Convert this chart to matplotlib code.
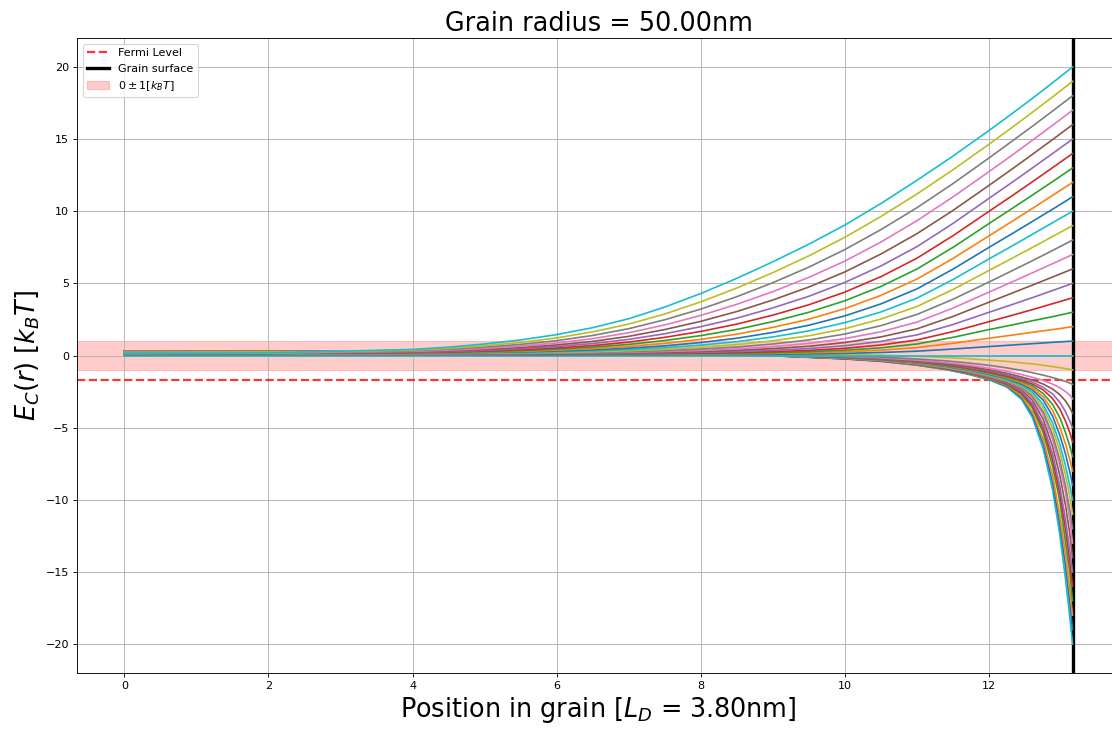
import matplotlib
matplotlib.use('Agg')
import matplotlib.pyplot as plt

# grain / model parameters shown in the labels
grain_radius_nm = 50.0
debye_length_nm = 3.8
surface_pos = 13.158          # grain radius in units of L_D
fermi_level = -1.7

# positions (in L_D) where the curves were read
x_up = [0, 2, 4, 4.5, 5, 5.5, 6, 6.5, 7, 7.5, 8, 8.5, 9, 9.5, 10, 10.5, 11,
        11.5, 12, 12.3, 12.6, 12.9, 13.158]
x_down = [0, 4, 6, 8, 9, 10, 10.5, 11, 11.4, 11.7, 12, 12.25, 12.45, 12.6,
          12.75, 12.88, 12.98, 13.06, 13.12, 13.158]

# surface potential +1 ... +20 (depletion)
up_curves = [
    [0.05, 0.05, 0.05, 0.05, 0.05, 0.05, 0.05, 0.06, 0.06, 0.06, 0.07, 0.08, 0.09, 0.11, 0.15, 0.21, 0.30, 0.45, 0.62, 0.72, 0.82, 0.92, 1],
    [0.08, 0.08, 0.08, 0.08, 0.08, 0.09, 0.09, 0.10, 0.10, 0.10, 0.11, 0.12, 0.15, 0.19, 0.26, 0.37, 0.55, 0.85, 1.20, 1.40, 1.61, 1.81, 2],
    [0.10, 0.10, 0.10, 0.10, 0.11, 0.11, 0.11, 0.12, 0.12, 0.13, 0.14, 0.16, 0.20, 0.26, 0.37, 0.53, 0.80, 1.26, 1.80, 2.10, 2.41, 2.71, 3],
    [0.11, 0.11, 0.11, 0.11, 0.12, 0.12, 0.13, 0.13, 0.14, 0.15, 0.18, 0.21, 0.27, 0.35, 0.50, 0.73, 1.08, 1.66, 2.35, 2.76, 3.18, 3.62, 4],
    [0.12, 0.12, 0.12, 0.12, 0.13, 0.13, 0.14, 0.15, 0.16, 0.18, 0.22, 0.27, 0.36, 0.48, 0.68, 0.98, 1.43, 2.15, 3.00, 3.50, 4.01, 4.54, 5],
    [0.13, 0.13, 0.13, 0.13, 0.14, 0.14, 0.15, 0.16, 0.19, 0.22, 0.28, 0.36, 0.48, 0.64, 0.90, 1.29, 1.85, 2.71, 3.70, 4.29, 4.88, 5.48, 6],
    [0.13, 0.13, 0.13, 0.13, 0.14, 0.15, 0.17, 0.19, 0.23, 0.28, 0.35, 0.46, 0.62, 0.84, 1.17, 1.65, 2.32, 3.29, 4.40, 5.06, 5.73, 6.41, 7],
    [0.14, 0.14, 0.14, 0.15, 0.16, 0.17, 0.19, 0.22, 0.27, 0.34, 0.45, 0.59, 0.80, 1.08, 1.49, 2.07, 2.85, 3.90, 5.10, 5.83, 6.57, 7.33, 8],
    [0.14, 0.14, 0.15, 0.16, 0.17, 0.19, 0.22, 0.26, 0.33, 0.43, 0.57, 0.76, 1.02, 1.37, 1.86, 2.53, 3.40, 4.58, 5.90, 6.69, 7.49, 8.30, 9],
    [0.15, 0.15, 0.16, 0.17, 0.19, 0.22, 0.26, 0.32, 0.41, 0.54, 0.72, 0.96, 1.29, 1.71, 2.28, 3.02, 3.98, 5.27, 6.70, 7.54, 8.40, 9.26, 10],
    [0.15, 0.15, 0.17, 0.19, 0.21, 0.25, 0.31, 0.39, 0.51, 0.67, 0.90, 1.20, 1.60, 2.10, 2.75, 3.58, 4.62, 5.99, 7.50, 8.39, 9.29, 10.20, 11],
    [0.15, 0.15, 0.18, 0.20, 0.24, 0.29, 0.37, 0.48, 0.63, 0.84, 1.12, 1.48, 1.95, 2.52, 3.25, 4.17, 5.30, 6.73, 8.30, 9.24, 10.19, 11.16, 12],
    [0.15, 0.15, 0.19, 0.22, 0.27, 0.34, 0.44, 0.58, 0.77, 1.04, 1.38, 1.81, 2.35, 3.00, 3.80, 4.79, 6.00, 7.50, 9.15, 10.13, 11.12, 12.12, 13],
    [0.15, 0.15, 0.21, 0.25, 0.31, 0.40, 0.52, 0.69, 0.93, 1.26, 1.67, 2.18, 2.80, 3.52, 4.40, 5.47, 6.75, 8.31, 10.00, 11.01, 12.04, 13.09, 14],
    [0.15, 0.16, 0.23, 0.28, 0.36, 0.47, 0.62, 0.83, 1.12, 1.51, 2.00, 2.59, 3.30, 4.11, 5.07, 6.21, 7.55, 9.16, 10.90, 11.94, 13.00, 14.07, 15],
    [0.15, 0.16, 0.26, 0.33, 0.42, 0.55, 0.73, 0.98, 1.33, 1.80, 2.37, 3.05, 3.85, 4.75, 5.80, 7.04, 8.45, 10.06, 11.80, 12.86, 13.94, 15.04, 16],
    [0.15, 0.16, 0.29, 0.37, 0.49, 0.65, 0.87, 1.17, 1.58, 2.12, 2.78, 3.55, 4.43, 5.42, 6.55, 7.87, 9.35, 11.00, 12.75, 13.82, 14.92, 16.03, 17],
    [0.15, 0.17, 0.33, 0.44, 0.58, 0.77, 1.03, 1.39, 1.86, 2.48, 3.22, 4.08, 5.05, 6.13, 7.35, 8.73, 10.25, 11.92, 13.70, 14.79, 15.89, 17.02, 18],
    [0.15, 0.17, 0.37, 0.50, 0.68, 0.91, 1.22, 1.64, 2.18, 2.88, 3.72, 4.68, 5.75, 6.91, 8.20, 9.64, 11.20, 12.88, 14.65, 15.74, 16.86, 18.00, 19],
    [0.15, 0.18, 0.42, 0.58, 0.80, 1.08, 1.45, 1.93, 2.55, 3.36, 4.30, 5.35, 6.50, 7.72, 9.05, 10.54, 12.15, 13.83, 15.60, 16.70, 17.82, 18.98, 20],
]

# surface potential -1 ... -20 (accumulation)
down_curves = [
    [0.22, 0.27, 0.24, 0.19, 0.13, 0.07, 0.02, -0.06, -0.14, -0.22, -0.32, -0.41, -0.51, -0.58, -0.68, -0.77, -0.84, -0.91, -0.96, -1.0],
    [0.3, 0.26, 0.22, 0.15, 0.09, -0.02, -0.11, -0.24, -0.37, -0.51, -0.68, -0.86, -1.03, -1.19, -1.36, -1.53, -1.67, -1.80, -1.91, -2.0],
    [0.3, 0.25, 0.21, 0.13, 0.07, -0.06, -0.17, -0.32, -0.49, -0.66, -0.88, -1.10, -1.32, -1.51, -1.73, -1.98, -2.23, -2.50, -2.75, -3.0],
    [0.3, 0.25, 0.21, 0.13, 0.06, -0.09, -0.21, -0.37, -0.56, -0.75, -0.99, -1.24, -1.49, -1.70, -1.98, -2.32, -2.71, -3.15, -3.62, -4.0],
    [0.3, 0.25, 0.20, 0.12, 0.05, -0.11, -0.24, -0.40, -0.61, -0.81, -1.07, -1.35, -1.61, -1.85, -2.20, -2.67, -3.23, -3.90, -4.55, -5.0],
    [0.3, 0.25, 0.20, 0.12, 0.04, -0.12, -0.25, -0.43, -0.65, -0.86, -1.13, -1.42, -1.70, -1.98, -2.38, -2.98, -3.70, -4.55, -5.35, -6.0],
    [0.3, 0.25, 0.20, 0.11, 0.03, -0.13, -0.27, -0.46, -0.69, -0.91, -1.20, -1.50, -1.80, -2.11, -2.63, -3.39, -4.30, -5.35, -6.30, -7.0],
    [0.3, 0.25, 0.20, 0.11, 0.03, -0.14, -0.28, -0.49, -0.72, -0.95, -1.25, -1.57, -1.89, -2.26, -2.86, -3.80, -4.93, -6.13, -7.22, -8.0],
    [0.3, 0.24, 0.20, 0.11, 0.02, -0.15, -0.30, -0.51, -0.75, -0.99, -1.30, -1.62, -1.98, -2.38, -3.09, -4.20, -5.50, -6.83, -8.08, -9.0],
    [0.3, 0.24, 0.20, 0.10, 0.02, -0.17, -0.31, -0.53, -0.77, -1.02, -1.35, -1.68, -2.06, -2.54, -3.39, -4.68, -6.13, -7.65, -9.04, -10.0],
    [0.3, 0.24, 0.20, 0.10, 0.01, -0.17, -0.32, -0.54, -0.80, -1.05, -1.38, -1.73, -2.14, -2.67, -3.62, -5.05, -6.65, -8.30, -9.78, -11.0],
    [0.3, 0.24, 0.19, 0.10, 0.01, -0.18, -0.33, -0.56, -0.82, -1.08, -1.42, -1.78, -2.23, -2.81, -3.90, -5.50, -7.22, -9.04, -10.73, -12.0],
    [0.3, 0.24, 0.19, 0.10, 0.00, -0.19, -0.34, -0.57, -0.84, -1.10, -1.45, -1.81, -2.29, -2.92, -4.10, -5.80, -7.65, -9.53, -11.40, -13.0],
    [0.3, 0.24, 0.19, 0.10, 0.00, -0.20, -0.35, -0.58, -0.86, -1.13, -1.49, -1.87, -2.38, -3.09, -4.43, -6.30, -8.30, -10.40, -12.40, -14.0],
    [0.3, 0.24, 0.19, 0.10, 0.00, -0.20, -0.36, -0.60, -0.88, -1.17, -1.53, -1.94, -2.50, -3.31, -4.80, -6.83, -9.04, -11.40, -13.55, -15.0],
    [0.3, 0.24, 0.19, 0.09, -0.01, -0.21, -0.37, -0.61, -0.90, -1.19, -1.55, -1.98, -2.59, -3.46, -5.05, -7.22, -9.53, -12.07, -14.32, -16.0],
    [0.3, 0.24, 0.19, 0.09, -0.01, -0.22, -0.38, -0.63, -0.92, -1.21, -1.58, -2.02, -2.67, -3.62, -5.35, -7.65, -10.07, -12.94, -15.08, -17.0],
    [0.3, 0.24, 0.19, 0.09, -0.01, -0.22, -0.39, -0.65, -0.94, -1.24, -1.62, -2.08, -2.81, -3.90, -5.80, -8.30, -11.07, -13.80, -16.23, -18.0],
    [0.3, 0.24, 0.19, 0.09, -0.01, -0.23, -0.40, -0.66, -0.96, -1.26, -1.65, -2.14, -2.92, -4.10, -6.13, -8.79, -11.73, -14.62, -17.17, -19.0],
    [0.3, 0.24, 0.19, 0.09, -0.02, -0.24, -0.40, -0.67, -0.98, -1.29, -1.69, -2.20, -3.04, -4.30, -6.48, -9.29, -12.40, -15.51, -18.16, -20.0],
]

flat_x = [0, 13.158]
flat_y = [0, 0]

fig = plt.figure(figsize=(13.9, 9.125), dpi=80)
ax = fig.add_axes([0.0692, 0.0782, 0.938, 0.8696])

ax.axhline(fermi_level, color='red', linestyle='--', linewidth=2, alpha=0.8,
           label='Fermi Level')
ax.axvline(surface_pos, color='black', linewidth=3, label='Grain surface')
ax.axhspan(-1, 1, color='red', alpha=0.2, label=r'$0\pm1 [k_BT]$')

# draw from the most negative surface value up to +20
for k in range(len(down_curves), 0, -1):
    ax.plot(x_down, down_curves[k - 1], color='C%d' % ((-k - 1) % 10), linewidth=1.5)
ax.plot(flat_x, flat_y, color='C9', linewidth=1.5)
for k in range(1, len(up_curves) + 1):
    ax.plot(x_up, up_curves[k - 1], color='C%d' % ((k - 1) % 10), linewidth=1.5)

ax.set_title('Grain radius = %.2fnm' % grain_radius_nm, fontsize=23)
ax.set_xlabel('Position in grain [$L_D$ = %.2fnm]' % debye_length_nm, fontsize=23)
ax.set_ylabel(r'$E_C(r)$ [$k_BT$]', fontsize=23)
ax.tick_params(labelsize=10)
ax.grid(True)
ax.legend(loc='upper left', fontsize=10)

fig.savefig('out.png', dpi=80)
